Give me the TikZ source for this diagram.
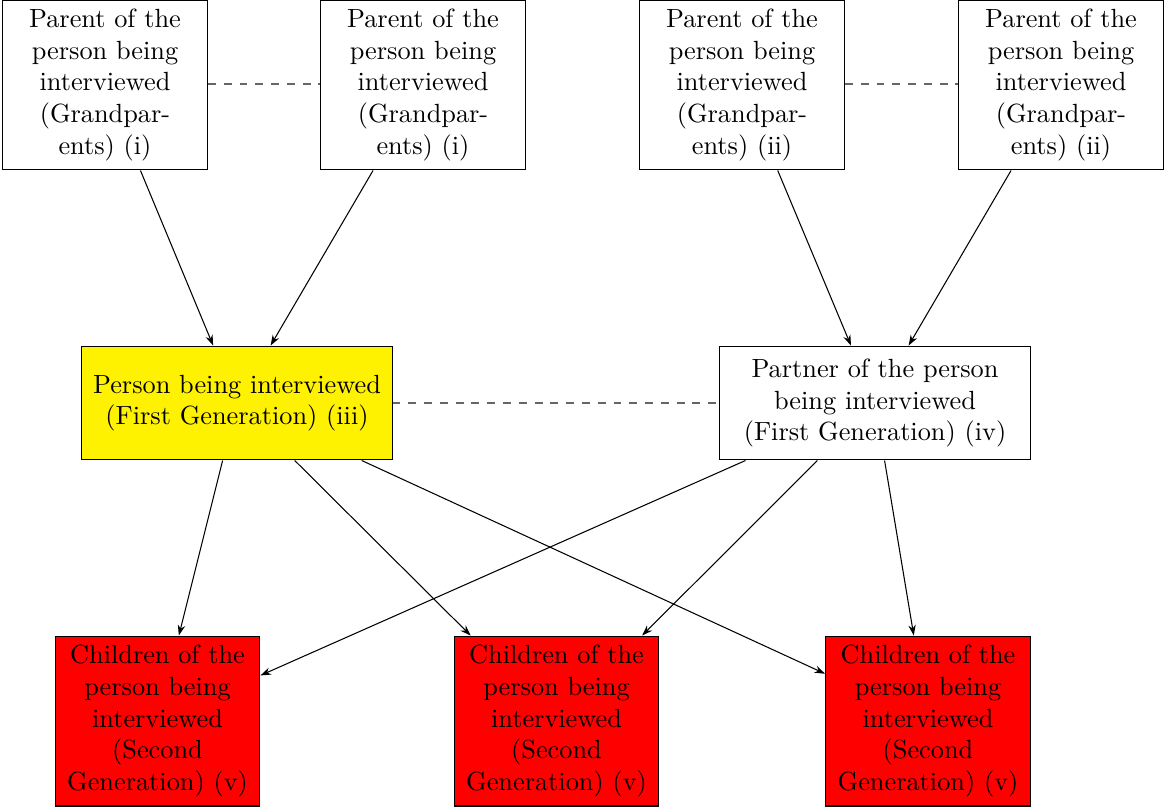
\documentclass[tikz,border=0pt]{standalone}
\usetikzlibrary{arrows.meta}
\begin{document}
\begin{tikzpicture}[x=0.3802pt,y=-0.3802pt,
  smallbox/.style={draw, align=center, inner sep=0pt, minimum width=77.9pt, minimum height=64.6pt},
  widebox/.style={draw, align=center, inner sep=0pt, minimum width=117.9pt, minimum height=43.3pt},
  childbox/.style={smallbox, fill=red},
  link/.style={-{Stealth[length=4pt,width=2.8pt]}, line width=0.4pt},
  pair/.style={dashed, draw=black!60, line width=0.4pt}]
\useasboundingbox (0,0) rectangle (1165,809);
\node[smallbox] (g1) at (105,85) {Parent of the\\person being\\interviewed\\(Grandpar-\\ents) (i)};
\node[smallbox] (g2) at (423,85) {Parent of the\\person being\\interviewed\\(Grandpar-\\ents) (i)};
\node[smallbox] (g3) at (742,85) {Parent of the\\person being\\interviewed\\(Grandpar-\\ents) (ii)};
\node[smallbox] (g4) at (1061,85) {Parent of the\\person being\\interviewed\\(Grandpar-\\ents) (ii)};
\node[widebox, fill=yellow] (p) at (237,403) {Person being interviewed\\(First Generation) (iii)};
\node[widebox] (q) at (875,403) {Partner of the person\\being interviewed\\(First Generation) (iv)};
\node[childbox] (c1) at (157.5,721) {Children of the\\person being\\interviewed\\(Second\\Generation) (v)};
\node[childbox] (c2) at (556.5,721) {Children of the\\person being\\interviewed\\(Second\\Generation) (v)};
\node[childbox] (c3) at (928,721) {Children of the\\person being\\interviewed\\(Second\\Generation) (v)};
\draw[pair] (g1.east |- 0,84) -- (g2.west |- 0,84);
\draw[pair] (g3.east |- 0,84) -- (g4.west |- 0,84);
\draw[pair] (p) -- (q);
\draw[link] (g1) -- (p);
\draw[link] (g2) -- (p);
\draw[link] (g3) -- (q);
\draw[link] (g4) -- (q);
\draw[link] (p) -- (c1);
\draw[link] (p) -- (c2);
\draw[link] (p) -- (c3);
\draw[link] (q) -- (c1);
\draw[link] (q) -- (c2);
\draw[link] (q) -- (c3);
\end{tikzpicture}
\end{document}
